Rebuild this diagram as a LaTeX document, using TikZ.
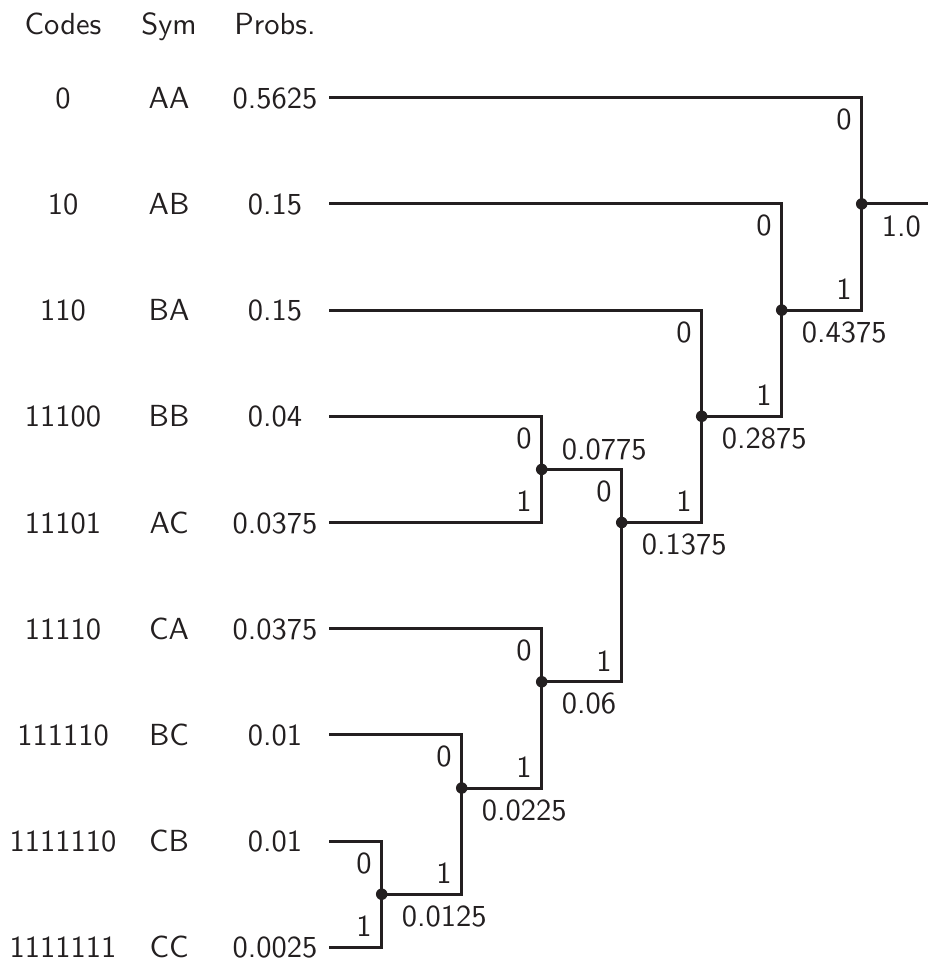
\documentclass[tikz,border=0pt]{standalone}
\usepackage{fontspec}
\newfontfamily\lmsten{lmsans10-regular.otf}
\definecolor{ink}{RGB}{35,31,32}
\begin{document}
\begin{tikzpicture}[x=1pt,y=-1pt,
  every node/.style={font=\lmsten\fontsize{30.5}{36}\selectfont, inner sep=0pt, text=ink},
  edge/.style={draw=ink, line width=3pt, line join=miter},
  dot/.style={circle, fill=ink, minimum size=11.5pt, inner sep=0pt},
  col/.style={anchor=base},
  bit/.style={anchor=base east},
  val/.style={anchor=base west}]
\useasboundingbox (0,0) rectangle (928,962);

% header
\node[col] (hC) at (63,34.5) {Codes};
\node[col] (hS) at (169,34.5) {Sym};
\node[col] (hP) at (275,34.5) {Probs.};

% rows: y = 97.7 + 106.2 i
\foreach \i/\c/\s/\p/\n in {0/0/AA/0.5625/AA, 1/10/AB/0.15/AB, 2/110/BA/0.15/BA,
  3/11100/BB/0.04/BB, 4/11101/AC/0.0375/AC, 5/11110/CA/0.0375/CA,
  6/111110/BC/0.01/BC, 7/1111110/CB/0.01/CB, 8/1111111/CC/0.0025/CC}{
  \pgfmathsetmacro{\yy}{97.7+106.2*\i}
  \node[col] (c\n) at (63,\yy+10.6) {\c};
  \node[col] (s\n) at (169,\yy+10.6) {\s};
  \node[col] (p\n) at (275,\yy+10.6) {\p};
  \coordinate (l\n) at (329,\yy);
}

% internal nodes
\coordinate (root) at (861.7,203.9);
\coordinate (n4375) at (781.7,310.1);
\coordinate (n2875) at (701.7,416.3);
\coordinate (n1375) at (621.7,522.5);
\coordinate (n0775) at (541.7,469.4);
\coordinate (n06) at (541.7,681.8);
\coordinate (n0225) at (461.7,788.0);
\coordinate (n0125) at (381.7,894.2);
\coordinate (out) at (930,203.9);

% connectors
\draw[edge] (lAA) -| (root);
\draw[edge] (n4375) -| (root);
\draw[edge] (root) -- (out);
\draw[edge] (lAB) -| (n4375);
\draw[edge] (n2875) -| (n4375);
\draw[edge] (lBA) -| (n2875);
\draw[edge] (n1375) -| (n2875);
\draw[edge] (n0775) -| (n1375);
\draw[edge] (n06) -| (n1375);
\draw[edge] (lBB) -| (n0775);
\draw[edge] (lAC) -| (n0775);
\draw[edge] (lCA) -| (n06);
\draw[edge] (n0225) -| (n06);
\draw[edge] (lBC) -| (n0225);
\draw[edge] (n0125) -| (n0225);
\draw[edge] (lCB) -| (n0125);
\draw[edge] (lCC) -| (n0125);

% dots
\foreach \n in {root,n4375,n2875,n1375,n0775,n06,n0225,n0125}
  \node[dot] (d\n) at (\n) {};

% branch bits: "0" below child0 row, "1" above child1 row
\node[bit] (b0root) at (851.7,97.7+32) {0};
\node[bit] (b1root) at (851.7,310.1-10.7) {1};
\node[bit] (b04375) at (771.7,203.9+32) {0};
\node[bit] (b14375) at (771.7,416.3-10.7) {1};
\node[bit] (b02875) at (691.7,310.1+32) {0};
\node[bit] (b12875) at (691.7,522.5-10.7) {1};
\node[bit] (b01375) at (611.7,469.4+32) {0};
\node[bit] (b11375) at (611.7,681.8-10.7) {1};
\node[bit] (b00775) at (531.7,416.3+32) {0};
\node[bit] (b10775) at (531.7,522.5-10.7) {1};
\node[bit] (b006) at (531.7,628.7+32) {0};
\node[bit] (b106) at (531.7,788.0-10.7) {1};
\node[bit] (b00225) at (451.7,734.9+32) {0};
\node[bit] (b10225) at (451.7,894.2-10.7) {1};
\node[bit] (b00125) at (371.7,841.1+32) {0};
\node[bit] (b10125) at (371.7,947.3-10.7) {1};

% values
\node[val] (vroot) at (881.7,203.9+32.5) {1.0};
\node[val] (v4375) at (801.7,310.1+32) {0.4375};
\node[val] (v2875) at (721.7,416.3+32) {0.2875};
\node[val] (v1375) at (641.7,522.5+32) {0.1375};
\node[val] (v0775) at (561.7,469.4-10.4) {0.0775};
\node[val] (v06) at (561.7,681.8+32) {0.06};
\node[val] (v0225) at (481.7,788.0+32) {0.0225};
\node[val] (v0125) at (401.7,894.2+32) {0.0125};
\end{tikzpicture}
\end{document}
